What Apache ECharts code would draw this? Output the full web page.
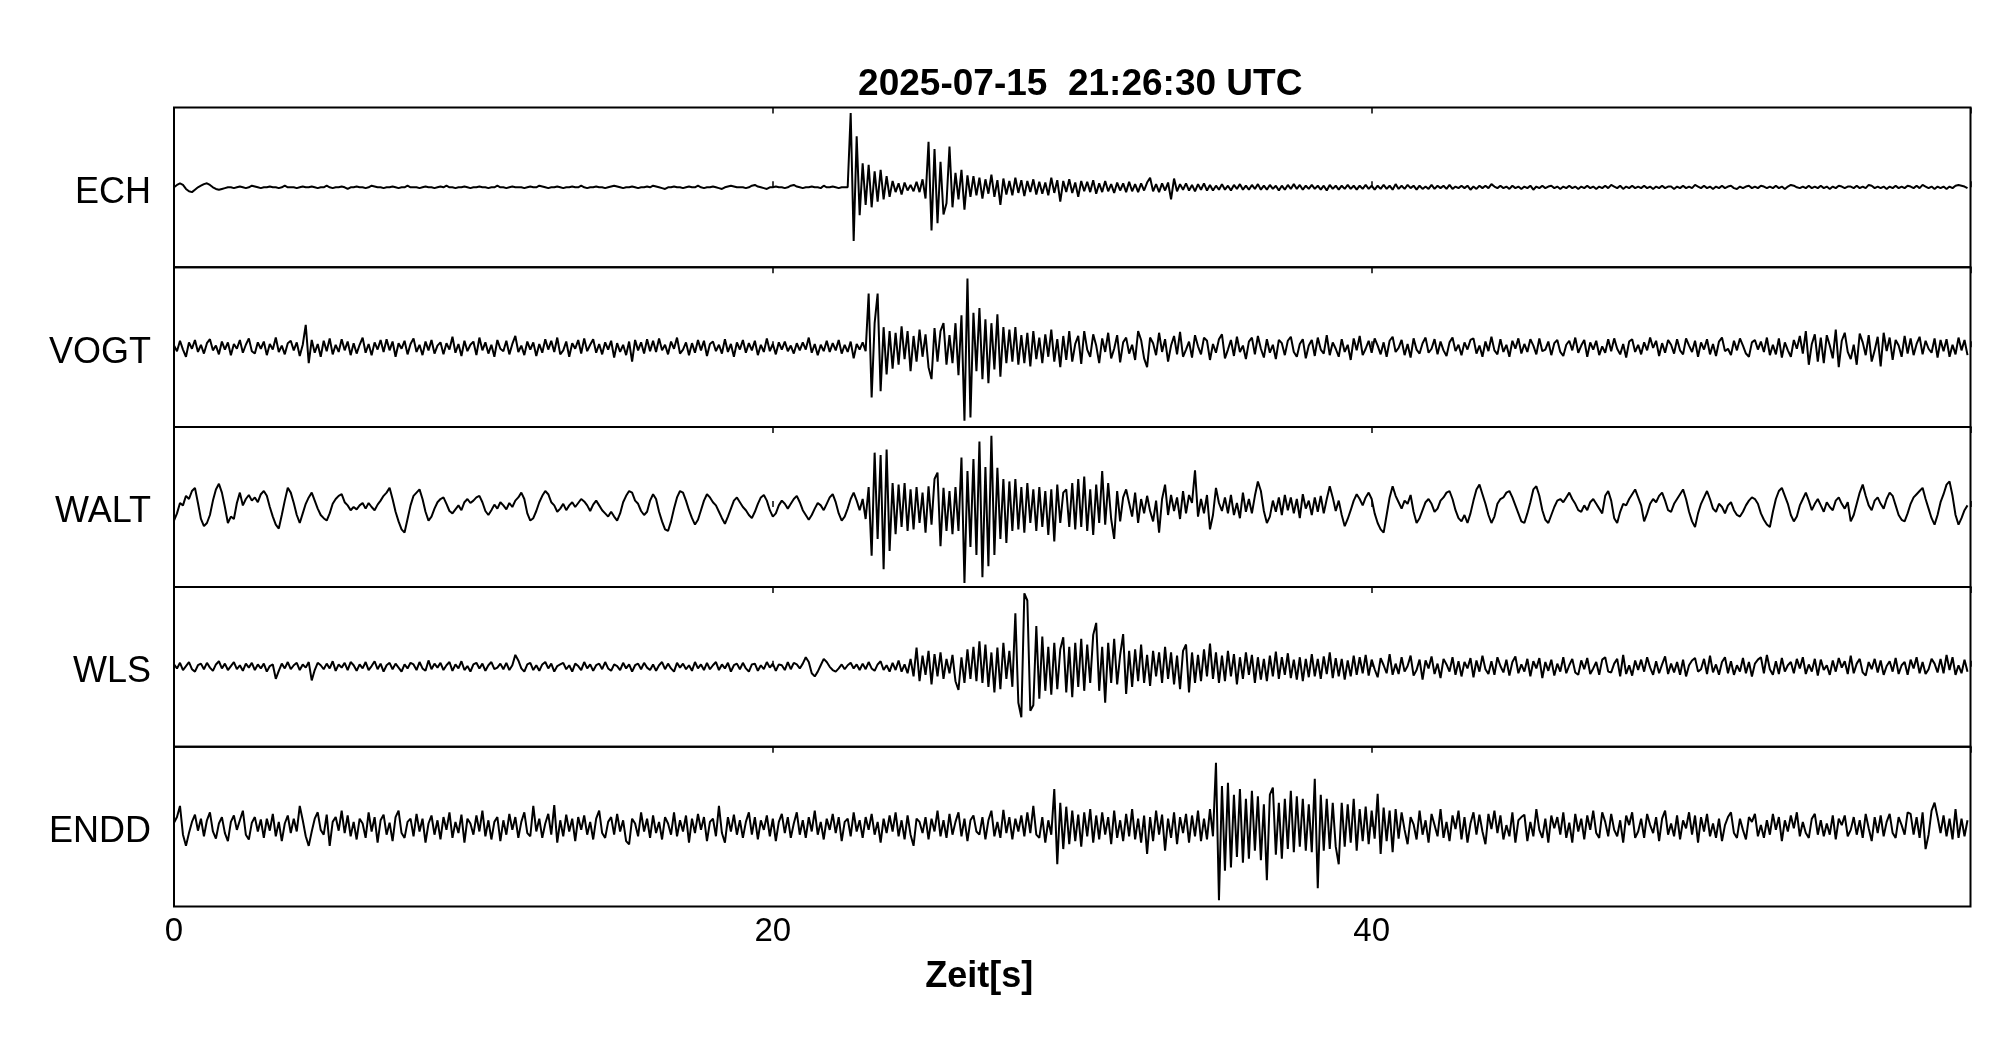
<!DOCTYPE html>
<html>
<head>
<meta charset="utf-8">
<script src="https://cdn.jsdelivr.net/npm/echarts@6/dist/echarts.min.js"></script>
<style>html,body{margin:0;padding:0;background:#fff}#c{width:2005px;height:1041px}</style>
</head>
<body>
<div id="c"></div>
<script>
// Time axis: samples every 0.1 s, 0 .. 59.9 s
const timeStep = 0.1;
const stations = ['ECH', 'VOGT', 'WALT', 'WLS', 'ENDD'];
const xTicks = [0, 20, 40];
const titleText = '2025-07-15  21:26:30 UTC';
const xName = 'Zeit[s]';

// Relative amplitudes (percent of half panel height), one row = 1 s
const ECH = [
0,3,5,3,-2,-5,-6,-3,0,2, 4,5,3,0,-2,-3,-2,-1,0,0, -1,0,1,0,-1,0,2,1,0,-1, 0,0,1,0,0,-1,0,2,0,0,
0,-1,0,1,0,0,1,0,-1,0, 0,2,0,-1,0,0,1,0,-2,0, 0,1,0,0,-1,0,2,1,0,0, -1,0,0,1,0,-1,0,0,2,0,
0,0,-1,0,1,0,0,-1,0,1, 0,2,0,0,-1,0,0,1,0,-1, 0,0,1,0,0,-1,0,0,2,0, 0,-1,0,1,0,0,0,-1,0,1,
0,0,2,1,0,-1,0,0,1,0, -1,0,0,1,0,0,2,0,-1,0, 0,1,0,0,-1,0,1,2,1,0, -1,0,0,1,0,-1,0,0,1,0,
2,1,0,-1,-2,0,0,1,0,0, -1,0,1,0,0,2,0,-1,0,0, 1,0,-1,-2,0,1,2,1,0,0, 0,-1,0,2,3,1,0,-1,-2,0,
0,1,0,0,-1,0,2,3,1,0, -1,0,0,1,0,0,-1,2,0,0, 1,0,-1,0,0,0,93,-67,64,-35, 30,-22,28,-25,20,-18,22,-15,14,-12,
8,-6,5,-9,6,-4,3,-5,7,-6, 10,-14,57,-54,48,-45,32,-34,-20,51, -25,18,-15,22,-28,15,-12,14,-10,12, -14,10,-8,16,-12,9,-22,11,-9,8,
-10,12,-7,9,-11,8,-6,10,-9,7, -8,6,-10,12,-7,9,-18,8,-6,10, -7,6,-12,8,-5,7,-6,9,-8,5, -6,8,-5,4,-7,6,-4,5,-6,7,
-5,4,-6,5,-4,6,12,-5,4,-6, 5,-4,6,-15,11,-5,4,-3,5,-4, 3,-5,4,-3,5,-4,3,-4,2,-3, 4,-3,2,-4,3,-2,4,-3,2,-3,
3,-2,4,-3,2,-3,3,-2,2,-4, 2,-3,3,-2,4,-2,3,-3,2,-2, 3,-2,2,-3,2,-4,3,-2,2,-3, 2,-2,3,-2,2,-3,2,-2,3,-2,
2,-3,2,-2,3,-2,2,-3,4,-2, 2,-2,3,-1,2,-3,2,-2,1,-2, 3,-2,2,-1,2,-2,3,-2,1,-1, 2,-1,2,-3,1,-2,2,-1,2,-1,
4,1,-1,2,-1,1,-2,2,-1,1, -2,1,-1,2,-3,1,-1,2,-1,1, 2,-1,1,-2,1,-1,2,-1,1,-2, 1,-1,2,-1,1,-2,1,-1,2,-1,
3,1,-1,2,-2,1,-1,2,-1,1, -1,2,-1,1,-2,1,-1,2,-1,1, 1,-2,1,-1,2,-1,1,-1,3,1, -1,2,-1,1,-2,1,-1,2,-1,1,
2,-1,-2,1,-1,1,2,-1,1,-1, 2,1,-1,1,-1,2,-1,1,-2,1, 3,2,0,-1,1,-1,2,-1,1,-1, 2,-1,1,-2,1,-1,2,1,-1,1,
1,-1,2,-1,1,-1,3,2,-1,1, -1,1,-2,1,-1,2,-1,1,-1,2, 1,-1,2,-1,3,1,-1,1,-2,1, -1,1,-2,1,-1,2,3,2,1,-1
];

const VOGT = [
2,-5,8,-3,-12,6,-2,9,-6,3, -8,5,10,-4,2,-9,7,-3,6,-10, 4,-2,9,-7,3,11,-5,-8,6,-2, 7,-10,4,-3,12,-6,2,-9,5,8,
-4,6,-11,3,28,-20,9,-7,4,-12, 8,-5,11,-9,3,-6,10,-4,7,-10, 5,-8,3,12,-7,4,-10,6,-3,9, -6,10,-4,7,-12,5,-2,8,-9,4,
11,-6,3,-10,7,-4,9,-8,2,6, -9,5,-3,13,-7,4,-11,8,-5,3, 7,-10,12,-4,6,-8,3,-12,9,-2, -5,8,-9,4,14,-6,2,-10,7,-3,
6,-11,4,-7,10,-3,8,-6,12,-9, -4,7,-12,5,-2,9,-8,11,-5,3, 10,-7,4,-9,6,-3,8,-13,5,-6, 3,-10,7,-18,9,-4,6,-8,10,-5,
8,-6,11,-4,3,-9,7,-2,12,-8, -3,6,-10,5,-7,9,-4,8,-11,4, 7,-5,3,-8,10,-6,4,-12,6,-3, 9,-7,5,-4,8,-10,3,-6,11,-5,
4,-9,6,-3,7,-5,2,-8,5,-4, 6,-3,12,-7,4,-10,3,-5,8,-6, 5,-4,9,-8,3,-6,7,-14,4,-3, 6,-5,67,-63,30,67,-55,25,-34,20,
-27,18,-22,26,-15,20,-30,14,-18,22, -12,16,-25,-40,24,-18,20,30,-22,15, -20,30,-35,40,-92,86,-88,43,-30,49, -40,35,-45,30,-28,41,-37,25,-20,22,
-18,25,-22,15,-20,18,-24,20,-15,12, -20,16,-12,22,-18,10,-25,14,-16,20, -18,4,14,-21,20,-3,-12,16,2,-20, 11,-6,18,-14,-2,15,-19,6,12,-8,
3,-16,20,9,-14,-25,12,5,-10,18, -6,10,-18,2,14,-9,19,-12,-3,7, -13,15,1,-9,12,8,-16,4,-7,10, 16,-14,-3,9,-11,13,-6,2,-15,7,
12,-9,14,-2,-13,10,-7,3,-15,9, 5,-10,8,13,-6,-12,4,10,-14,2, 9,-11,12,-3,-8,15,-10,6,-2,-12, 10,-6,3,-16,11,-4,14,-10,-2,8,
-7,11,2,-9,6,-12,8,13,-6,-1, 9,-10,4,-13,11,-3,-8,5,12,-7, -2,10,-9,7,-4,-11,6,12,-5,3, -10,6,-3,9,11,-8,2,-12,7,-5,
13,-4,-9,10,-6,3,-12,8,-2,11, -8,4,-6,10,2,-9,11,-5,-3,7, -10,5,9,-6,-11,3,8,-4,12,-7, 2,9,-12,6,-3,8,-10,1,-7,10,
-5,11,-2,-9,4,-13,7,10,-6,3, -9,6,-4,12,-1,8,-11,5,-7,9, 3,-8,10,-4,-9,11,2,-6,8,-12, 6,-3,10,-9,4,-11,7,12,-5,-2,
-10,8,-4,11,2,-8,-12,6,9,-3, 7,-6,12,-10,3,-9,11,-13,6,-4, -12,9,-2,14,-8,20,-22,4,16,-18, 12,-20,15,2,-14,22,-25,8,18,-6,
-15,3,-22,17,6,-10,15,-18,-4,13, -24,18,-5,12,-16,9,2,-12,14,-8, 11,-10,4,13,-9,8,-2,-7,11,-13, 9,-5,10,-12,3,-9,12,-4,9,-10
];

const WALT = [
-17,-8,5,2,14,10,20,24,5,-15, -24,-20,-10,8,22,29,18,0,-20,-12, -15,5,18,2,10,15,8,12,6,16, 20,14,0,-12,-22,-27,-10,8,24,18,
5,-10,-20,-8,4,12,18,8,-2,-10, -14,-17,-8,4,10,14,16,6,2,-4, 0,-3,2,5,-2,5,0,-4,3,8, 14,18,24,10,-6,-18,-28,-32,-15,2,
14,18,22,10,-6,-17,-12,-2,6,10, 12,4,-5,-8,-3,2,-4,6,10,5, 8,12,14,6,-5,-10,-4,3,-2,6, 2,-3,5,0,8,12,18,10,-8,-17,
-14,-5,6,14,20,16,6,2,-6,-2, 4,-4,2,6,0,5,10,7,2,-5, 3,8,2,-4,-8,-12,-6,-12,-17,-8, 6,14,20,18,8,4,-5,-10,-6,8,
16,10,-6,-18,-28,-30,-18,-2,12,20, 18,8,-4,-14,-22,-16,-4,8,16,12, 6,2,-6,-14,-21,-12,-2,8,12,6, 0,-4,-10,-14,-6,4,12,15,8,-4,
-12,-8,2,8,4,-2,4,10,14,6, -4,-10,-16,-10,-2,5,2,-4,4,12, 16,6,-8,-17,-12,-2,10,18,8,-4, 10,-15,25,-61,68,-40,65,-78,72,-55,
30,-34,28,-25,30,-30,22,-28,25,-20, 18,-32,26,-22,35,43,-49,24,-30,20, -34,25,-30,62,-95,45,-50,60,-60,82, -88,50,-74,89,-60,49,-40,35,-45,32,
-30,35,-28,25,-32,30,-20,22,-30,25, -25,20,-35,22,-43,28,-20,18,22,-25, 30,-28,35,-25,38,-30,22,-35,28,-20, 45,-22,30,-15,-40,20,-18,12,22,5,
-12,18,-20,10,-8,14,-5,-18,8,-32, 10,28,-10,15,-5,12,-15,20,-8,15, 5,46,-12,10,-8,15,-28,-10,24,5, -5,12,-8,15,-10,5,-14,18,-6,10,
-8,14,32,20,-5,-20,-12,8,-6,12, -10,15,-4,12,-8,10,-14,16,-2,8, -10,12,-6,14,-8,10,26,12,-5,8, -10,-24,-15,-4,8,16,10,2,12,18,
10,-8,-20,-28,-32,-10,12,26,14,6, -2,8,4,15,-6,-20,-14,-4,6,10, 4,-6,-2,8,12,18,20,10,-4,-14, -18,-10,-20,-8,8,22,28,16,4,-10,
-20,-12,4,10,12,18,20,12,2,-8, -18,-20,-8,6,22,26,14,-4,-16,-20, -10,0,8,10,6,12,18,10,4,-4, -6,2,-4,6,10,4,-2,-8,14,20,
8,-14,-20,-6,4,2,10,16,22,12, 2,-18,-8,4,10,6,14,18,8,-4, -6,4,10,16,22,10,-6,-18,-25,-8, 4,12,20,10,-2,-6,4,0,-8,2,
6,-4,-10,-12,-6,2,8,12,10,4, -8,-16,-22,-25,-6,10,20,24,14,4, -10,-18,-12,2,10,18,8,-4,4,10, 2,-6,6,0,-4,8,12,4,-2,6,
-18,-10,4,18,28,14,2,-4,8,12, 4,-2,10,18,14,2,-10,-16,-18,-8, 4,12,16,20,24,10,-2,-14,-22,-10, 6,16,28,32,14,-10,-22,-14,-4,2
];

const WLS = [
3,-2,5,-4,1,6,-3,-6,2,4, -3,5,-1,-5,3,7,-2,4,-4,1, 6,-3,2,-5,4,-1,5,-4,3,-2, 4,-6,1,3,-15,-5,4,-2,6,-3,
2,5,-4,3,-1,6,-17,-4,5,2, -3,4,-2,7,-5,3,-1,5,-4,6, 2,-5,3,-2,6,-4,1,7,-3,4, -6,2,5,-3,4,-1,-6,3,-2,5,
3,-4,6,-2,-5,8,-3,4,-1,5, -4,2,6,-5,3,-2,7,-4,1,-6, 3,5,-2,4,-5,2,6,-3,-1,4, -3,5,-4,2,15,8,-2,-6,3,5,
-4,2,-5,3,6,-2,4,-6,1,3, 5,-3,2,-6,4,1,-4,6,-2,3, -5,2,4,-3,6,-2,-5,3,1,-4, 5,-2,3,-6,2,4,-3,5,-1,-4,
3,-5,2,6,-3,4,-2,-6,5,-1, 4,-3,2,-5,6,-2,3,-4,5,-3, 2,6,-4,3,-2,5,-6,2,4,-3, 5,-2,-6,3,4,-5,2,-3,6,-1,
4,-5,3,2,-4,6,-3,5,3,-2, 4,12,6,-8,-12,-6,2,10,6,0, -4,-6,-2,3,-3,2,5,-2,3,-4, 4,-3,6,-2,-5,3,7,-4,2,-6,
5,-4,8,-6,3,-8,10,-12,24,-18, 14,-10,20,-22,16,-12,18,-15,10,-8, 15,-18,-29,12,-20,22,-15,25,-18,32, -20,28,-25,18,-32,24,-28,30,-15,20,
-25,67,-45,-63,92,83,-55,-48,51,-40, 38,-30,25,-35,30,-28,22,37,-32,25, -38,30,-25,35,-30,28,-20,40,55,-30, 25,-45,30,-20,35,-22,15,41,-34,20,
-25,22,-18,28,-20,15,-24,20,-12,18, -20,25,-15,18,-22,14,-28,20,28,-32, 18,-20,15,-18,22,-12,29,-15,18,-20, 14,-18,20,-12,16,-22,12,-15,18,-10,
15,-20,12,-16,10,-18,14,-12,19,-15, 12,-10,17,-14,9,-16,12,-18,10,-13, 16,-12,10,-15,13,-9,18,-14,11,-12, 10,-16,8,-12,14,-10,12,-8,15,-11,
9,-3,-13,11,2,-8,16,-10,4,-9, 12,-6,1,14,-11,-4,9,-16,8,-2, 13,-9,4,-14,10,3,-6,12,-10,7, -12,6,-2,11,-13,8,-6,14,-3,-9,
7,-10,12,1,-7,9,-11,6,13,-8, 3,-6,10,-12,7,-2,11,-14,6,-5, 9,-11,4,-6,12,-8,2,10,-7,-10, 8,-3,11,-9,-2,6,-10,9,12,-6,
-7,4,10,-12,15,-9,2,-11,8,-4, 9,-6,12,-1,-10,7,-8,3,13,-9, 4,-7,6,-10,9,-12,2,8,11,-6, -3,10,-9,14,-7,3,-10,6,12,-8,
7,-10,2,-6,11,-8,6,-12,4,9, 12,-8,15,-3,-10,7,-9,11,-6,2, 6,-8,10,-2,12,-9,3,-6,10,-11, 9,-4,2,-10,8,-6,11,-1,7,-9,
14,-8,4,10,-7,-11,6,-3,10,-7, 8,-10,1,7,-6,11,-9,2,6,-10, 9,-2,12,-8,6,-9,-3,10,4,-7, 10,-8,15,-4,12,-10,2,-8,9,-6
];

const ENDD = [
5,12,26,-10,-24,-8,6,15,-5,10, -12,8,18,-6,-15,4,12,-8,-18,6, 14,-4,8,20,-10,-16,5,12,-6,9, -14,10,-5,16,-12,6,-18,4,14,-8,
10,-6,26,8,-12,-24,-6,10,18,-4, -10,15,-24,6,12,-5,20,-8,14,-12, 6,-16,10,4,-14,18,-6,12,-20,8, 15,-10,5,-18,12,20,-8,-14,6,10,
-12,16,-6,10,-20,4,14,-10,8,-16, 12,-4,18,-14,6,-8,15,-20,10,4, -10,14,-6,20,-12,8,-16,6,12,-18, 8,-10,16,-4,12,-14,6,18,-8,-12,
26,-6,10,-14,4,16,-10,27,-20,8, -12,15,-6,10,-18,12,-4,14,-10,6, -16,10,20,-8,-14,6,12,-10,16,-6, 8,-18,-22,10,4,-12,18,-6,10,-14,
14,-8,6,-16,12,4,-10,18,-12,8, -6,14,-20,10,-8,16,-4,12,-18,6, 10,-12,26,-8,-20,12,-6,15,-10,8, -14,6,18,-10,12,-16,8,-4,14,-12,
10,-18,6,16,-8,12,-14,4,18,-10, 8,-14,12,-6,20,-10,6,-16,10,-4, 16,-8,12,-18,6,10,-12,18,-6,8, -14,12,-4,16,-10,6,-20,10,-8,14,
-6,18,-12,8,-16,14,-10,-24,10,6, -8,12,-16,10,-6,20,-12,8,-14,16, -10,6,18,-12,10,-18,8,14,-6,-10, 12,-16,8,20,-12,6,-14,21,-8,12,
-16,10,-6,14,-12,18,-8,26,-10,-14, 12,-20,8,-10,47,-47,30,-28,25,-22, 20,-18,15,-25,18,-12,22,-20,14,-16, 18,-10,12,-22,20,-14,8,-18,16,-12,
22,-16,10,-20,14,-34,12,-18,20,-10, 15,-30,10,-14,18,-22,12,-8,16,-20, 14,-12,20,-18,10,-16,22,-12,80,-92, 51,-55,55,-51,40,-38,47,-45,35,-40,
45,-30,38,-42,28,-67,40,49,-35,30, -40,35,-28,45,-32,38,-25,35,-30,28, -32,60,-77,40,-30,35,-28,30,-25,-47, 30,-25,28,-20,35,-30,22,-18,25,-22,
20,-15,41,-34,24,-18,20,-32,22,-15, 18,-4,-22,12,3,-16,20,-10,8,-20, 16,2,-12,22,-14,6,-18,14,-3,20, -16,12,-20,4,18,-10,15,-6,-22,16,
-3,20,-8,14,-16,2,-12,18,-20,8, 12,15,-18,6,-12,22,-4,-14,10,-20, 14,-2,12,-10,18,-14,5,-20,16,-6, 10,-16,14,-4,20,-8,-14,18,6,-12,
16,-4,-12,8,-20,14,2,18,-14,-6, 10,-14,16,2,-8,12,-18,10,20,-10, 4,-12,14,-16,8,-2,18,-10,14,-20, 12,-6,16,-12,4,-14,10,-18,2,12,
18,-8,-14,10,-4,-16,12,6,16,-12, 2,-14,8,-10,16,-4,12,-18,8,-6, 14,-2,18,-12,6,-8,-14,10,16,-10, 8,-12,4,-10,14,-16,10,2,14,-12,
-4,12,-10,8,-14,16,-2,-18,12,-8, 14,-12,6,16,-8,-14,12,2,-10,18, 16,-10,12,-14,18,-28,-10,20,30,12, -8,14,-12,10,-16,22,-14,10,-12,8
];

const traces = [ECH, VOGT, WALT, WLS, ENDD];

const FONT = 'Liberation Sans, Arial, Helvetica, sans-serif';
const chart = echarts.init(document.getElementById('c'), null, {renderer: 'canvas'});

const TOP = 107.4, STEP = 159.84, LEFT = 174, RIGHT = 34.5;
const grids = [], xAxes = [], yAxes = [], series = [];
stations.forEach((name, i) => {
  grids.push({left: LEFT, right: RIGHT, top: TOP + i * STEP, height: STEP,
    show: true, borderColor: '#000', borderWidth: 2, backgroundColor: 'transparent', containLabel: false});
  const tick = {show: true, inside: true, length: 6, lineStyle: {color: '#000', width: 1.5}};
  xAxes.push({gridIndex: i, type: 'value', min: 0, max: 60, interval: 20, position: 'bottom',
    axisLine: {show: false}, axisTick: tick, splitLine: {show: false},
    axisLabel: {show: i === stations.length - 1, color: '#000', fontSize: 33, fontFamily: FONT, margin: 9,
      showMaxLabel: false, formatter: v => xTicks.indexOf(v) >= 0 ? String(v) : ''},
    name: i === stations.length - 1 ? xName : '', nameLocation: 'middle', nameGap: 52,
    nameTextStyle: {color: '#000', fontSize: 36, fontWeight: 'bold', fontFamily: FONT, padding: [0, 186, 0, 0]}});
  xAxes.push({gridIndex: i, type: 'value', min: 0, max: 60, interval: 20, position: 'top',
    axisLine: {show: false}, axisTick: tick, splitLine: {show: false}, axisLabel: {show: false},
    name: i === 0 ? titleText : '', nameLocation: 'middle', nameGap: 4,
    nameTextStyle: {color: '#000', fontSize: 37, fontWeight: 'bold', fontFamily: FONT, padding: [0, 0, 0, 16]}});
  yAxes.push({gridIndex: i, type: 'value', min: -100, max: 100, interval: 100,
    axisLine: {show: false}, axisTick: {show: false}, splitLine: {show: false},
    axisLabel: {show: true, color: '#000', fontSize: 36, fontFamily: FONT, margin: 23,
      formatter: v => v === 0 ? '{s|' + name + '}' : '',
      rich: {s: {fontSize: 36, fontFamily: FONT, color: '#000', padding: [11, 0, 0, 0]}}}});
  series.push({type: 'line', xAxisIndex: i * 2, yAxisIndex: i, showSymbol: false, symbol: 'none',
    silent: true, animation: false, clip: true,
    lineStyle: {color: '#000', width: 2},
    data: traces[i].map((v, k) => [+(k * timeStep).toFixed(1), v])});
});

chart.setOption({
  backgroundColor: '#fff',
  animation: false,
  grid: grids,
  xAxis: xAxes,
  yAxis: yAxes,
  series: series
});
</script>
</body>
</html>
